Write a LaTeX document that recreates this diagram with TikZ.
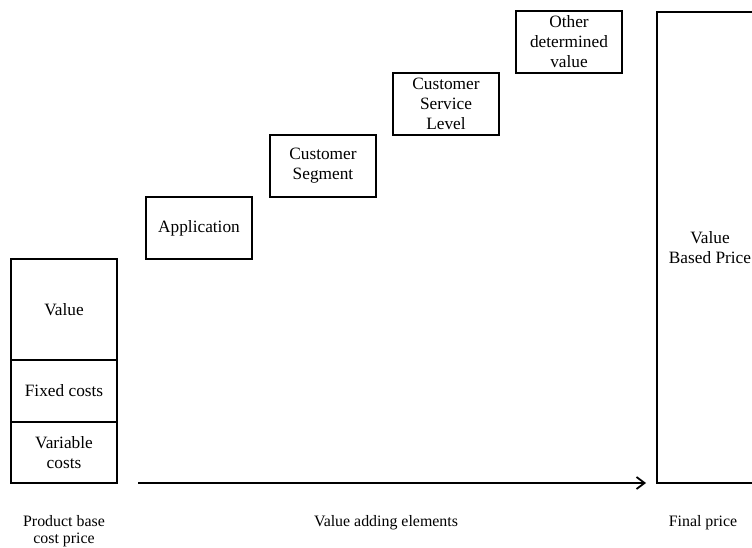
\documentclass[tikz,border=0pt]{standalone}
\usepackage{fontspec}
\setmainfont{Liberation Serif}
\usetikzlibrary{positioning}
\usetikzlibrary{arrows.meta}

\begin{document}
\begin{tikzpicture}[x=1pt, y=1pt, ->, >={Straight Barb[length=8pt, width=12pt]}, line width=1.8pt, font=\fontsize{17.3}{20}\selectfont]
    \tikzstyle{block}=[draw=black, rectangle, fill=none, minimum width=106pt, minimum height=62pt, inner sep=0pt, outer sep=0pt, align=center]
    \tikzstyle{caption}=[font=\fontsize{15.9}{17.5}\selectfont, align=center, anchor=north]

    \useasboundingbox (0,0) rectangle (752,547);

    % base cost price
    \node[block, minimum height=61pt, anchor=south west] (var) at (11,64) {Variable\\costs};
    \node[block, above=0pt of var] (fix) {Fixed costs};
    \node[block, minimum height=101pt, above=0pt of fix] (val) {Value};

    % value adding steps
    \node[block, above right=0pt and 29pt of val] (app) {Application};
    \node[block, above right=0pt and 18pt of app] (seg) {Customer\\Segment};
    \node[block, above right=0pt and 17pt of seg] (serv) {Customer\\Service\\Level};
    \node[block, above right=0pt and 17pt of serv] (other) {Other\\determined\\value};

    % final price
    \node[block, minimum height=471pt, anchor=south west] (final) at (657,64) {Value\\Based Price};

    \coordinate (start) at (138,64);
    \draw[shorten >=11pt] (start) -- (final.south west);

    \node[caption] (lbase) at (64,36) {Product base\\cost price};
    \node[caption] (ladd) at (386,36) {Value adding elements};
    \node[caption] (lfinal) at (703,36) {Final price};
\end{tikzpicture}
\end{document}
